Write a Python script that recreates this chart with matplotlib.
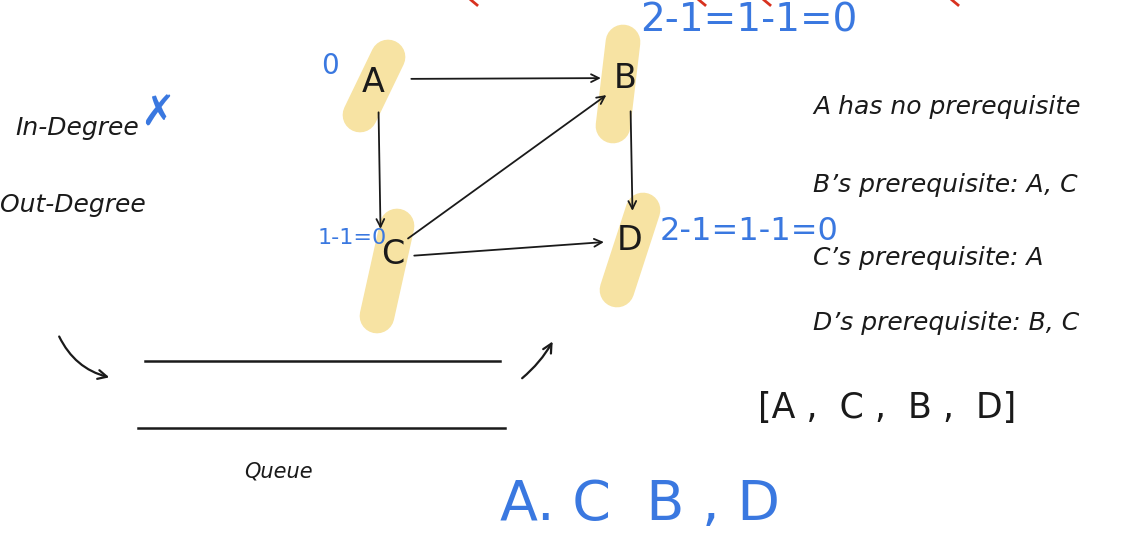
"""Whiteboard sketch: topological sort of a small course graph (Kahn's algorithm)."""

import matplotlib
matplotlib.use("Agg")
import matplotlib.pyplot as plt

# ---------------------------------------------------------------------------
# Data (pixel space of the 1144x550 board)
# ---------------------------------------------------------------------------
node_names = ["A", "B", "C", "D"]
node_x = [378, 630, 381, 633]
node_y = [79, 78, 258, 240]
edges = [("A", "B"), ("A", "C"), ("C", "B"), ("B", "D"), ("C", "D")]

# in-degree bookkeeping scribbled next to each node
indegree_notes = ["0", "2-1=1-1=0", "1-1=0", "2-1=1-1=0"]

degree_labels = ["In-Degree", "Out-Degree"]
prereq_lines = [
    "A has no prerequisite",
    "B\u2019s prerequisite: A, C",
    "C\u2019s prerequisite: A",
    "D\u2019s prerequisite: B, C",
]
topo_order = ["A", "C", "B", "D"]

INK = "#1a1a1a"
BLUE = "#3a78e0"
RED = "#d8321f"
HIGHLIGHT = "#f7e3a3"
HAND = dict(fontfamily="DejaVu Sans", fontstyle="oblique", color=INK)

fig = plt.figure(figsize=(11.44, 5.5), dpi=100)
ax = fig.add_axes([0, 0, 1, 1])
ax.set_xlim(0, 1144)
ax.set_ylim(550, 0)
ax.axis("off")

pos = {n: (x, y) for n, x, y in zip(node_names, node_x, node_y)}

# letter nudges and highlighter strokes (top offset, bottom offset)
label_nudge = {"A": (-5, 4), "B": (-5, 0), "C": (12, -4), "D": (-3, 0)}
stroke = {"A": ((10, -22), (-18, 36)), "B": ((-7, -36), (-17, 48)),
          "C": ((16, -32), (-4, 58)), "D": ((10, -30), (-16, 50))}

for n in node_names:
    x, y = pos[n]
    (tx, ty), (bx, by) = stroke[n]
    ax.plot([x + tx, x + bx], [y + ty, y + by], color=HIGHLIGHT,
            lw=25, solid_capstyle="round", zorder=1)
    dx, dy = label_nudge[n]
    ax.text(x + dx, y + dy, n, fontsize=24, ha="center", va="center",
            fontfamily="DejaVu Sans", color=INK, zorder=3)

# --- edges ---
for a, b in edges:
    ax.annotate("", xy=pos[b], xytext=pos[a],
                arrowprops=dict(arrowstyle="->", color=INK, lw=1.3,
                                shrinkA=24, shrinkB=21,
                                mutation_scale=14),
                zorder=2)

# --- blue in-degree notes ---
note_pos = [(330, 66, "center"), (640, 20, "left"), (352, 238, "center"),
            (660, 232, "left")]
note_size = [20, 28, 16, 23]
for txt, (x, y, ha), fs in zip(indegree_notes, note_pos, note_size):
    ax.text(x, y, txt, fontsize=fs, ha=ha, va="center", color=BLUE,
            fontfamily="DejaVu Sans", zorder=4)

# --- left column labels ---
ax.text(15, 128, degree_labels[0], fontsize=18, ha="left", va="center", **HAND)
ax.text(0, 205, degree_labels[1], fontsize=18, ha="left", va="center", **HAND)
ax.text(158, 114, "\u2717", fontsize=30, ha="center", va="center",
        color=BLUE, fontfamily="DejaVu Sans")

# --- right column: prerequisites ---
prereq_y = [107, 185, 258, 323]
for line, y in zip(prereq_lines, prereq_y):
    ax.text(813, y, line, fontsize=18, ha="left", va="center", **HAND)

ax.text(758, 408, "[" + " ,  ".join(topo_order) + "]", fontsize=25,
        ha="left", va="center", fontfamily="DejaVu Sans", color=INK)

# --- queue ---
ax.plot([145, 500], [361, 361], color=INK, lw=1.8)
ax.plot([138, 505], [428, 428], color=INK, lw=1.8)
ax.text(278, 472, "Queue", fontsize=15, ha="center", va="center", **HAND)
ax.annotate("", xy=(112, 378), xytext=(58, 334),
            arrowprops=dict(arrowstyle="->", color=INK, lw=1.6,
                            connectionstyle="arc3,rad=0.25",
                            mutation_scale=16))
ax.annotate("", xy=(554, 339), xytext=(520, 380),
            arrowprops=dict(arrowstyle="->", color=INK, lw=1.6,
                            connectionstyle="arc3,rad=0.1",
                            mutation_scale=16))

# --- blue final order ---
ax.text(500, 505, "A. C  B , D", fontsize=40, ha="left", va="center",
        color=BLUE, fontfamily="DejaVu Sans")

# --- red scribbles clipped at the top edge ---
for x in [474, 702, 767, 955]:
    ax.plot([x - 3, x + 3], [0, 5], color=RED, lw=2)

fig.savefig("out.png", dpi=100)
